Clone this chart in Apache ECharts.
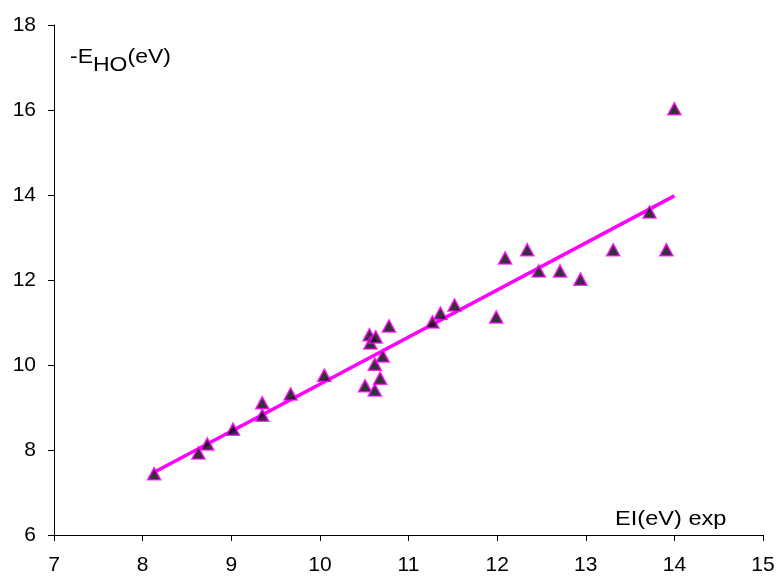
<!DOCTYPE html>
<html><head><meta charset="utf-8">
<script src="https://cdn.jsdelivr.net/npm/echarts@6/dist/echarts.min.js"></script>
<style>html,body{margin:0;padding:0;background:#fff}#c{width:780px;height:579px}</style>
</head><body><div id="c"></div>
<script>
// Experimental ionisation energy (x) vs -E_HO (y)
const xValues = [8.13, 8.63, 8.73, 9.02, 9.35, 9.35, 9.67, 10.05, 10.51, 10.56, 10.57, 10.63, 10.62, 10.62, 10.68, 10.71, 10.78, 11.27, 11.36, 11.52, 11.99, 12.09, 12.34, 12.47, 12.71, 12.94, 13.31, 13.72, 13.91, 14.0];
const yValues = [7.44, 7.93, 8.14, 8.49, 9.11, 8.82, 9.32, 9.76, 9.51, 10.71, 10.52, 10.66, 10.02, 9.41, 9.69, 10.21, 10.92, 11.01, 11.22, 11.41, 11.13, 12.52, 12.71, 12.21, 12.21, 12.02, 12.71, 13.6, 12.71, 16.03];
const xAxisRange = [7, 15];
const yAxisRange = [6, 18];
const xTitle = 'EI(eV) exp';
const yTitleParts = ['-E', 'HO', '(eV)'];

const points = xValues.map((x, i) => [x, yValues[i]]);
// least squares linear trendline
const n = xValues.length;
const mx = xValues.reduce((a, b) => a + b, 0) / n;
const my = yValues.reduce((a, b) => a + b, 0) / n;
let sxy = 0, sxx = 0;
for (let i = 0; i < n; i++) { sxy += (xValues[i] - mx) * (yValues[i] - my); sxx += (xValues[i] - mx) ** 2; }
const slope = sxy / sxx, intercept = my - slope * mx;
const xmin = Math.min(...xValues), xmax = Math.max(...xValues);
const trend = [[xmin, intercept + slope * xmin], [xmax, intercept + slope * xmax]];

const FONT = 'Liberation Sans, Arial, sans-serif';
const chart = echarts.init(document.getElementById('c'), null, { renderer: 'canvas' });
chart.setOption({
  animation: false,
  backgroundColor: '#fff',
  grid: { left: 54, right: 17, top: 25, bottom: 44, containLabel: false },
  xAxis: {
    type: 'value', min: xAxisRange[0], max: xAxisRange[1], interval: 1,
    axisLine: { lineStyle: { color: '#000', width: 1 } },
    axisTick: { length: 6, lineStyle: { color: '#000' } },
    axisLabel: { color: '#000', fontSize: 21, fontFamily: FONT, margin: 20 },
    splitLine: { show: false }
  },
  yAxis: {
    type: 'value', min: yAxisRange[0], max: yAxisRange[1], interval: 2,
    axisLine: { show: true, lineStyle: { color: '#000', width: 1 } },
    axisTick: { show: true, length: 6, lineStyle: { color: '#000' } },
    axisLabel: { color: '#000', fontSize: 21, fontFamily: FONT, margin: 18 },
    splitLine: { show: false }
  },
  graphic: [
    { type: 'text', left: 615, top: 509, scaleX: 1.18, origin: [0, 0],
      style: { text: xTitle, fill: '#000', font: '20px ' + FONT } },
    { type: 'text', left: 70, top: 47, scaleX: 1.15, origin: [0, 0], style: {
        text: '{a|' + yTitleParts[0] + '}{b|' + yTitleParts[1] + '}{a|' + yTitleParts[2] + '}',
        rich: {
          a: { fontSize: 20, fontFamily: FONT, fill: '#000', verticalAlign: 'top', padding: [0, 0, 6, 0] },
          b: { fontSize: 20, fontFamily: FONT, fill: '#000', padding: [8, 0, 0, 0] }
        }
    } }
  ],
  series: [
    { type: 'line', data: trend, symbol: 'none', z: 2,
      lineStyle: { color: '#ff00ff', width: 3.5 } },
    { type: 'scatter', data: points, symbol: 'triangle', symbolSize: [13, 12], z: 3,
      itemStyle: { color: '#000', borderColor: '#ff00ff', borderWidth: 1.6 } }
  ]
});
</script></body></html>
